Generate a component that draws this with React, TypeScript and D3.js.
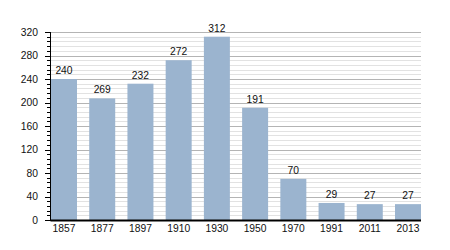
import React from "react";
import * as d3 from "d3";

const years = ["1857", "1877", "1897", "1910", "1930", "1950", "1970", "1991", "2011", "2013"];
const barValues = [240, 207, 232, 272, 312, 191, 70, 29, 27, 27];
const barLabels = ["240", "269", "232", "272", "312", "191", "70", "29", "27", "27"];
const yTicks = [0, 40, 80, 120, 160, 200, 240, 280, 320];

export default function App() {
  const W = 450, H = 250;
  const left = 50.5, right = 421, top = 32, bottom = 220;
  const x = d3.scaleBand<string>().domain(years).range([51, 421]).paddingInner(0.32).paddingOuter(0);
  const y = d3.scaleLinear().domain([0, 320]).range([bottom, top]);
  const minor = d3.range(0, 321, 8).filter((v) => v % 40 !== 0);
  const font = "'Liberation Sans', Arial, sans-serif";
  const fs = 10.3;
  return (
    <svg width={W} height={H} style={{ position: "absolute", left: 0, top: 0, background: "#fff" }} fontFamily={font}>
      {minor.map((v) => (
        <line key={"m" + v} x1={left} x2={right} y1={Math.round(y(v)) + 0.5} y2={Math.round(y(v)) + 0.5} stroke="#e2e2e2" strokeWidth={1} />
      ))}
      {yTicks.filter((v) => v > 0).map((v) => (
        <line key={"g" + v} x1={left} x2={right} y1={Math.round(y(v)) + 0.5} y2={Math.round(y(v)) + 0.5} stroke="#b4b4b4" strokeWidth={1} />
      ))}
      {years.map((yr, i) => (
        <rect key={yr} x={x(yr)} width={x.bandwidth()} y={y(barValues[i])} height={bottom - y(barValues[i])} fill="#9bb4cf" />
      ))}
      {years.map((yr, i) => (
        <text key={"l" + yr} x={(x(yr) as number) + x.bandwidth() / 2} y={y(barValues[i]) - 5} textAnchor="middle" fontSize={fs} fill="#111">
          {barLabels[i]}
        </text>
      ))}
      {minor.map((v) => (
        <line key={"mt" + v} x1={47} x2={left} y1={Math.round(y(v)) + 0.5} y2={Math.round(y(v)) + 0.5} stroke="#000" strokeWidth={1} />
      ))}
      {yTicks.map((v) => (
        <g key={"t" + v}>
          <line x1={45} x2={left} y1={Math.round(y(v)) + 0.5} y2={Math.round(y(v)) + 0.5} stroke="#000" strokeWidth={1} />
          <text x={38} y={y(v) + 3.8} textAnchor="end" fontSize={fs} fill="#111">{v}</text>
        </g>
      ))}
      <line x1={left} x2={left} y1={top} y2={bottom + 1} stroke="#000" strokeWidth={1} />
      <line x1={left} x2={right} y1={bottom + 0.5} y2={bottom + 0.5} stroke="#000" strokeWidth={2} />
      {years.map((yr) => (
        <text key={"x" + yr} x={(x(yr) as number) + x.bandwidth() / 2} y={232} textAnchor="middle" fontSize={fs} fill="#111">
          {yr}
        </text>
      ))}
    </svg>
  );
}
